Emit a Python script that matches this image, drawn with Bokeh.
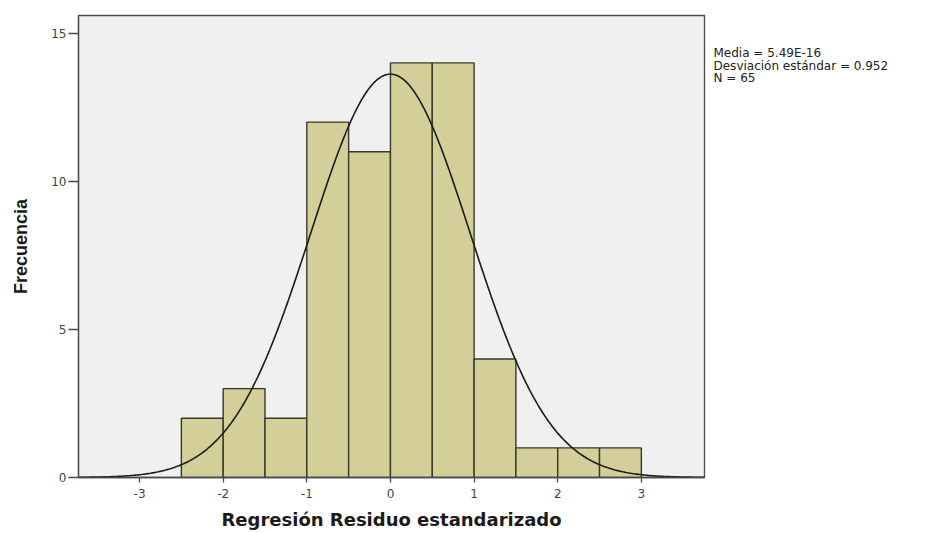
import numpy as np
from bokeh.plotting import figure
from bokeh.layouts import row
from bokeh.models import Range1d, FixedTicker
from bokeh.core.properties import value
from bokeh.embed import file_html
from bokeh.resources import INLINE

# Histogram bins (standardized residual) and frequencies
bin_left = [-2.5, -2.0, -1.5, -1.0, -0.5, 0.0, 0.5, 1.0, 1.5, 2.0, 2.5]
bin_right = [-2.0, -1.5, -1.0, -0.5, 0.0, 0.5, 1.0, 1.5, 2.0, 2.5, 3.0]
counts = [2, 3, 2, 12, 11, 14, 14, 4, 1, 1, 1]

# Summary statistics shown in the chart
mean_val = 5.49e-16
sd_val = 0.952
n_val = 65
stat_lines = ["Media = 5.49E-16", "Desviación estándar = 0.952", "N = 65"]

x_ticks = [-3, -2, -1, 0, 1, 2, 3]
x_tick_labels = {-3: "-3", -2: "-2", -1: "-1", 0: "0", 1: "1", 2: "2", 3: "3"}
y_ticks = [0, 5, 10, 15]

XMIN, XMAX, YMAX = -3.73, 3.755, 15.6
H = 533
TOP, BOTTOM = 15, 56

p = figure(width=710, height=H, output_backend="svg", toolbar_location=None,
           x_range=Range1d(XMIN, XMAX), y_range=Range1d(0, YMAX),
           min_border_left=78, min_border_right=6, min_border_top=TOP, min_border_bottom=BOTTOM)

p.background_fill_color = "#F0F0F0"
p.border_fill_color = "white"
p.xgrid.visible = False
p.ygrid.visible = False
p.outline_line_color = "#4a4a4a"
p.outline_line_width = 1.3

p.quad(left=bin_left, right=bin_right, bottom=0, top=counts,
       fill_color="#D4CF98", line_color="#38382a", line_width=1.4)

# normal curve from summary statistics
bw = bin_right[0] - bin_left[0]
xs = np.linspace(XMIN, XMAX, 400)
ys = n_val * bw / (sd_val * np.sqrt(2 * np.pi)) * np.exp(-0.5 * ((xs - mean_val) / sd_val) ** 2)
p.line(xs, ys, line_color="#1a1a1a", line_width=1.6)

for ax in (p.xaxis[0], p.yaxis[0]):
    ax.axis_line_color = "#4a4a4a"
    ax.axis_line_width = 1.3
    ax.major_tick_line_color = "#4a4a4a"
    ax.major_tick_line_width = 1.3
    ax.minor_tick_line_color = None
    ax.major_tick_in = 0
    ax.major_label_text_color = "#444444"
    ax.major_label_text_font = "DejaVu Sans"
    ax.major_label_text_font_size = "12px"
    ax.axis_label_text_font_style = "bold"
    ax.axis_label_text_color = "#1a1a1a"

p.xaxis.ticker = FixedTicker(ticks=x_ticks)
p.xaxis.major_label_overrides = x_tick_labels
p.yaxis.ticker = FixedTicker(ticks=y_ticks)
p.xaxis.major_tick_out = 5
p.yaxis.major_tick_out = 10
p.xaxis.major_label_standoff = 6
p.yaxis.major_label_standoff = 2
p.xaxis.axis_label = "Regresión Residuo estandarizado"
p.xaxis.axis_label_text_font = "DejaVu Sans"
p.xaxis.axis_label_text_font_size = "18px"
p.xaxis.axis_label_standoff = 8
p.yaxis.axis_label = "Frecuencia"
p.yaxis.axis_label_text_font = "Liberation Sans"
p.yaxis.axis_label_text_font_size = "18px"
p.yaxis.axis_label_standoff = 17

# side panel with the statistics text (frame aligned with the main plot frame;
# y data units equal page pixels measured from the top)
s = figure(width=216, height=H, output_backend="svg", toolbar_location=None,
           x_range=Range1d(0, 216), y_range=Range1d(H - BOTTOM, TOP),
           x_axis_location=None, y_axis_location=None,
           min_border_left=0, min_border_right=0, min_border_top=TOP, min_border_bottom=BOTTOM)
s.outline_line_color = None
s.xgrid.visible = False
s.ygrid.visible = False
s.background_fill_color = "white"
s.border_fill_color = "white"
s.text(x=[3, 3, 3], y=[52.5, 65.0, 77.5], text=stat_lines,
       text_font=value("DejaVu Sans"), text_font_size="12px",
       text_color="#222222", text_baseline="alphabetic", text_align="left")

layout = row(p, s)
open("out.html", "w").write(file_html(layout, INLINE))
